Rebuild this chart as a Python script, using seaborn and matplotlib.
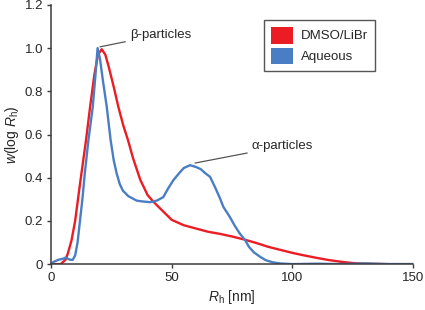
#!/usr/bin/env python3

# plot.py
#
# Hydrodynamic radius distributions, DMSO/LiBr vs aqueous.
import matplotlib
matplotlib.use('Agg')
import matplotlib.pyplot as plt
from matplotlib.patches import Patch
import pandas as pd
import seaborn as sns


SERIES = ['DMSO/LiBr', 'Aqueous']
COLORS = ['#ec1c24', '#4a7ec4']

# DMSO/LiBr curve
DMSO_X = [0, 4, 6, 7, 8.5, 10, 12, 14.5, 16.2, 18, 19.5, 21, 22.5, 24, 26, 27.9,
          30, 31.9, 34, 37, 40, 42.4, 45, 50, 55, 60, 65, 70, 75, 80, 85, 90,
          95, 100, 105, 110, 115, 120, 125, 130, 140, 150]
DMSO_Y = [0, 0, 0.02, 0.05, 0.11, 0.2, 0.37, 0.574, 0.728, 0.88, 0.97, 0.995,
          0.97, 0.91, 0.82, 0.728, 0.64, 0.574, 0.49, 0.39, 0.32, 0.289, 0.26,
          0.205, 0.18, 0.165, 0.15, 0.14, 0.128, 0.114, 0.098, 0.08, 0.066,
          0.052, 0.04, 0.029, 0.019, 0.011, 0.005, 0.002, 0, 0]

# Aqueous curve
AQ_X = [0, 1, 3, 5, 6, 7, 8, 9, 10, 11, 12, 13, 14, 15.5, 17.3, 18.3, 19.3,
        20.3, 21.5, 23.1, 24.7, 26, 27.2, 28.5, 29.8, 32, 35.5, 38, 41, 42.4,
        44, 46.5, 48.5, 50.7, 53, 55, 57.6, 60, 62, 64, 65.9, 68, 70, 71.4, 74,
        76, 78, 80.4, 82, 84, 86.6, 89, 92, 95, 100, 110, 120, 130, 140, 150]
AQ_Y = [0, 0.01, 0.02, 0.025, 0.03, 0.025, 0.02, 0.02, 0.04, 0.1, 0.2, 0.3,
        0.42, 0.574, 0.728, 0.86, 1.0, 0.95, 0.85, 0.728, 0.574, 0.48, 0.42,
        0.37, 0.34, 0.315, 0.294, 0.29, 0.287, 0.289, 0.295, 0.31, 0.35, 0.389,
        0.42, 0.445, 0.458, 0.45, 0.44, 0.42, 0.404, 0.355, 0.305, 0.265, 0.22,
        0.18, 0.145, 0.111, 0.08, 0.055, 0.034, 0.018, 0.008, 0.003, 0.0,
        0.002, 0.0, 0.003, 0.0, 0.0]

X_TICKS = [0, 50, 100, 150]
Y_TICKS = [0, 0.2, 0.4, 0.6, 0.8, 1.0, 1.2]
Y_TICK_LABELS = ['0', '0.2', '0.4', '0.6', '0.8', '1.0', '1.2']


def main():
    sns.set_style('ticks')
    plt.rcParams['font.family'] = ['Liberation Sans', 'DejaVu Sans']
    plt.rcParams['mathtext.fontset'] = 'custom'
    plt.rcParams['mathtext.rm'] = 'Liberation Sans'
    plt.rcParams['mathtext.it'] = 'Liberation Sans:italic'

    fig = plt.figure(figsize=(4.25, 3.1), dpi=100)
    ax = fig.add_axes([0.12, 0.148, 0.852, 0.836])

    sns.lineplot(x=DMSO_X, y=DMSO_Y, ax=ax, color=COLORS[0], linewidth=1.7)
    sns.lineplot(x=AQ_X, y=AQ_Y, ax=ax, color=COLORS[1], linewidth=1.7)

    ax.set_xlim(0, 150)
    ax.set_ylim(0, 1.2)
    ax.set_xticks(X_TICKS)
    ax.set_xticklabels([str(t) for t in X_TICKS])
    ax.set_yticks(Y_TICKS)
    ax.set_yticklabels(Y_TICK_LABELS)
    ax.tick_params(labelsize=9.5, length=3, width=1, color='#3a3a3a', pad=2.5)

    sns.despine(ax=ax)
    for side in ['left', 'bottom']:
        ax.spines[side].set_color('#3a3a3a')
        ax.spines[side].set_linewidth(1.1)

    ax.set_xlabel(r'$R_{\mathrm{h}}$ [nm]', fontsize=10, labelpad=3)
    ax.set_ylabel(r'$w$(log $R_{\mathrm{h}}$)', fontsize=10, labelpad=3)

    # Peak annotations
    ax.annotate(u'\u03b2-particles', xy=(20.3, 1.006), xytext=(32.7, 1.063),
                fontsize=9.5, va='center',
                arrowprops=dict(arrowstyle='-', color='#555555', lw=0.9,
                                shrinkA=1, shrinkB=0))
    ax.annotate(u'\u03b1-particles', xy=(59.7, 0.468), xytext=(83.2, 0.546),
                fontsize=9.5, va='center',
                arrowprops=dict(arrowstyle='-', color='#555555', lw=0.9,
                                shrinkA=1, shrinkB=0))

    handles = [Patch(facecolor=c, edgecolor='none', label=s)
               for s, c in zip(SERIES, COLORS)]
    leg = ax.legend(handles=handles, loc='upper right',
                    bbox_to_anchor=(0.895, 0.942), fontsize=9.5,
                    fancybox=False, framealpha=1, edgecolor='#555555',
                    handlelength=1.7, handleheight=1.6, handletextpad=0.6,
                    labelspacing=0.3, borderpad=0.5, borderaxespad=0)
    leg.get_frame().set_linewidth(1.0)

    fig.savefig('out.png', dpi=100)
    plt.close(fig)


if __name__ == '__main__':
    main()
